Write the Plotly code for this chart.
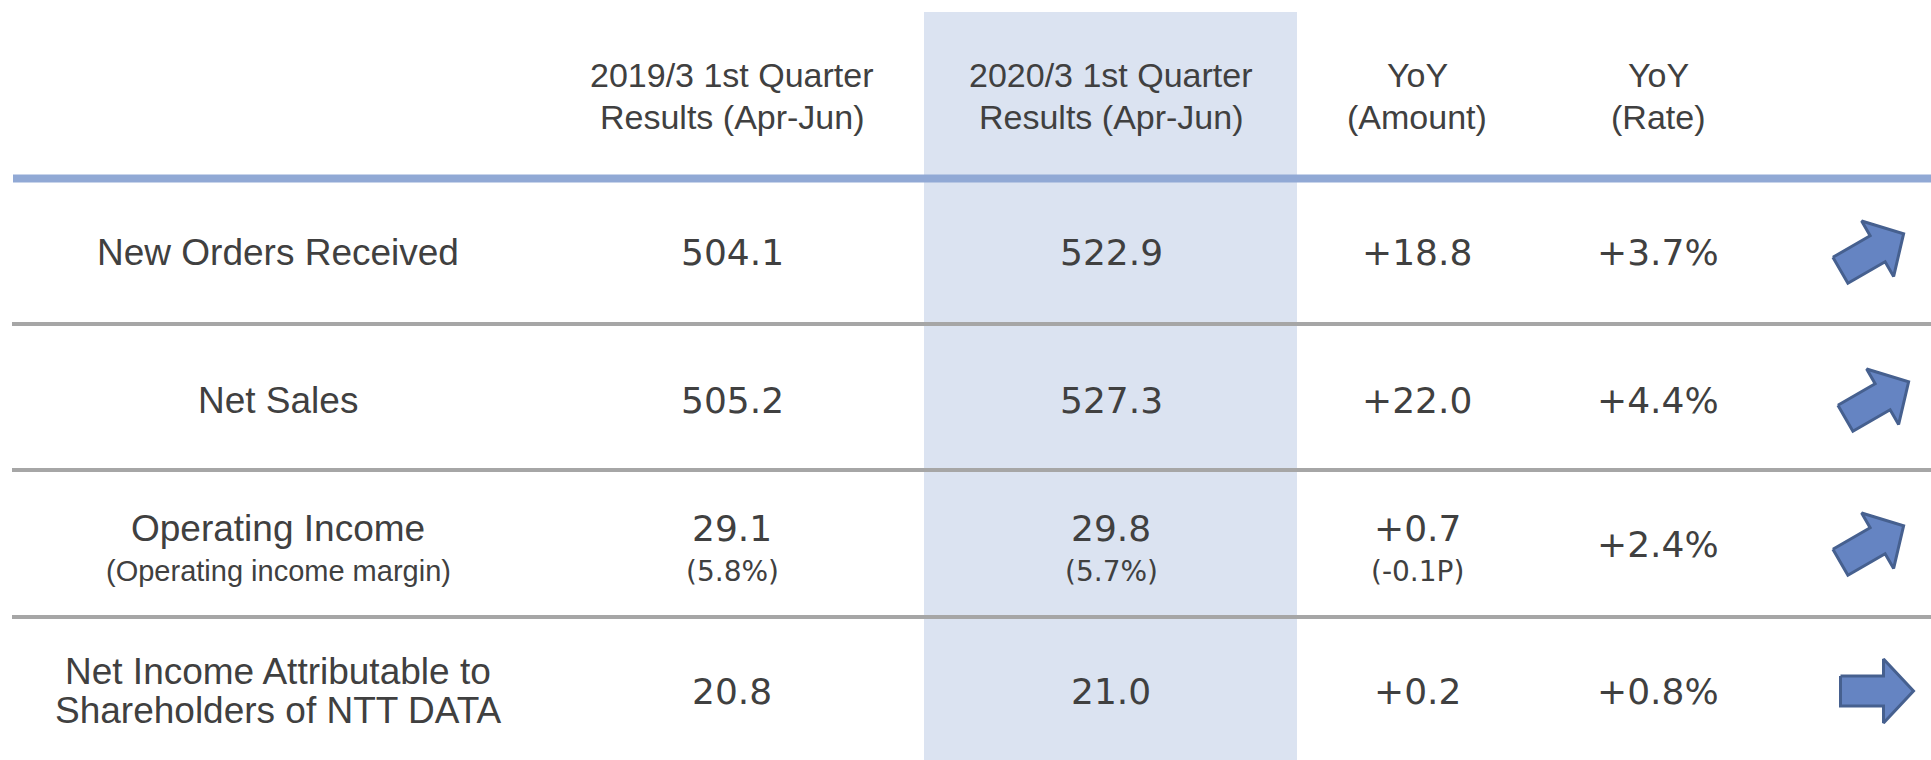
import math
import plotly.graph_objects as go

# ---------------- data ----------------
column_headers = [
    "2019/3 1st Quarter<br>Results (Apr-Jun)",
    "2020/3 1st Quarter<br>Results (Apr-Jun)",
    "YoY<br>(Amount)",
    "YoY<br>(Rate)",
]
metric_labels = [
    "New Orders Received",
    "Net Sales",
    "Operating Income",
    "Net Income Attributable to<br>Shareholders of NTT DATA",
]
metric_sublabels = ["", "", "(Operating income margin)", ""]
prev_results = [504.1, 505.2, 29.1, 20.8]
curr_results = [522.9, 527.3, 29.8, 21.0]
yoy_amount = [18.8, 22.0, 0.7, 0.2]
yoy_rate = [3.7, 4.4, 2.4, 0.8]
prev_margin = [None, None, 5.8, None]
curr_margin = [None, None, 5.7, None]
margin_change = [None, None, -0.1, None]

# ---------------- layout / style constants ----------------
W, H = 1931, 760
col_x = [278, 732, 1111, 1417, 1658]          # label, prev, curr, amount, rate
arrow_x = [1872, 1877, 1872, 1877]
header_y = 95.5
header_gap = 42
row_y = [252, 400, 544, 691]
line_gap = 39
sep_y = [324, 470, 617]
header_line_y = 178.5
shade_x = (924, 1297)
shade_top = 12

TEXT = "#404040"
LABEL_FONT = "Liberation Sans, Arial, sans-serif"
NUM_FONT = "DejaVu Sans, Verdana, sans-serif"
SHADE = "#dbe3f1"
BLUE_LINE = "#91a9d5"
GRAY_LINE = "#a6a6a6"
ARROW_FILL = "#6584c2"
ARROW_EDGE = "#46608f"

fig = go.Figure()
annotations = []


def add_text(x, y, text, size, family):
    annotations.append(dict(
        x=x, y=y, xref="x", yref="y", text=text, showarrow=False,
        xanchor="center", yanchor="middle",
        font=dict(size=size, family=family, color=TEXT),
    ))


def add_multiline(x, yc, text, size, family, gap):
    lines = text.split("<br>")
    n = len(lines)
    for i, ln in enumerate(lines):
        add_text(x, yc + (i - (n - 1) / 2) * gap, ln, size, family)


# headers
for j, h in enumerate(column_headers):
    add_multiline(col_x[j + 1], header_y, h, 34, LABEL_FONT, header_gap)

fmt_val = lambda v: f"{v:.1f}"
fmt_amt = lambda v: f"{v:+.1f}"
fmt_rate = lambda v: f"{v:+.1f}%"

for i in range(len(metric_labels)):
    yc = row_y[i]
    has_sub = bool(metric_sublabels[i])
    main_y = yc - 16 if has_sub else yc
    sub_y = yc + 27
    # label
    if has_sub:
        add_text(col_x[0], main_y, metric_labels[i], 37, LABEL_FONT)
        add_text(col_x[0], sub_y, metric_sublabels[i], 29, LABEL_FONT)
    else:
        add_multiline(col_x[0], yc, metric_labels[i], 37, LABEL_FONT, line_gap)
    # values
    add_text(col_x[1], main_y, fmt_val(prev_results[i]), 36, NUM_FONT)
    add_text(col_x[2], main_y, fmt_val(curr_results[i]), 36, NUM_FONT)
    add_text(col_x[3], main_y, fmt_amt(yoy_amount[i]), 36, NUM_FONT)
    add_text(col_x[4], yc, fmt_rate(yoy_rate[i]), 36, NUM_FONT)
    if prev_margin[i] is not None:
        add_text(col_x[1], sub_y, f"({prev_margin[i]:.1f}%)", 28, NUM_FONT)
    if curr_margin[i] is not None:
        add_text(col_x[2], sub_y, f"({curr_margin[i]:.1f}%)", 28, NUM_FONT)
    if margin_change[i] is not None:
        add_text(col_x[3], sub_y, f"({margin_change[i]:.1f}P)", 28, NUM_FONT)

# arrows (direction derived from YoY rate)
arrow_shape = [(-36.5, -15), (6.5, -15), (6.5, -32), (36.5, 0),
               (6.5, 32), (6.5, 15), (-36.5, 15), (-36.5, -15)]
for i, r in enumerate(yoy_rate):
    ang = math.radians(30 if r >= 1.0 else 0)
    c, s = math.cos(ang), math.sin(ang)
    xs = [arrow_x[i] + px * c + py * s for px, py in arrow_shape]
    ys = [row_y[i] - px * s + py * c for px, py in arrow_shape]
    fig.add_trace(go.Scatter(
        x=xs, y=ys, mode="lines", fill="toself", fillcolor=ARROW_FILL,
        line=dict(color=ARROW_EDGE, width=3), hoverinfo="skip", showlegend=False,
    ))

shapes = [
    dict(type="rect", xref="x", yref="y", x0=shade_x[0], x1=shade_x[1],
         y0=shade_top, y1=H, fillcolor=SHADE, line=dict(width=0), layer="below"),
    dict(type="line", xref="x", yref="y", x0=13, x1=W, y0=header_line_y,
         y1=header_line_y, line=dict(color=BLUE_LINE, width=8), layer="below"),
]
for yy in sep_y:
    shapes.append(dict(type="line", xref="x", yref="y", x0=12, x1=W, y0=yy, y1=yy,
                       line=dict(color=GRAY_LINE, width=4), layer="below"))

fig.update_layout(
    width=W, height=H,
    margin=dict(l=0, r=0, t=0, b=0),
    paper_bgcolor="white", plot_bgcolor="white",
    xaxis=dict(range=[0, W], visible=False, fixedrange=True),
    yaxis=dict(range=[H, 0], visible=False, fixedrange=True),
    shapes=shapes, annotations=annotations, showlegend=False,
)

fig.write_html(
    "out.html",
    config={"displayModeBar": False},
    post_script="document.body.style.margin='0';document.body.style.overflow='hidden';",
)
